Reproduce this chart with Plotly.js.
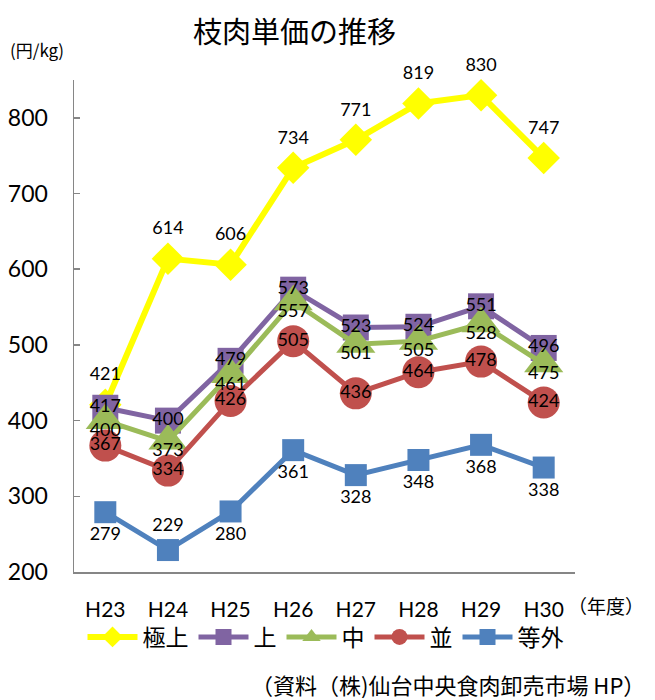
<!DOCTYPE html>
<html>
<head>
<meta charset="utf-8">
<script src="https://cdn.plot.ly/plotly-3.0.1.min.js"></script>
<style>
  html, body { margin: 0; padding: 0; background: #fff; }
  #chart { width: 655px; height: 700px; }
</style>
</head>
<body>
<div id="chart"></div>
<script>
// ---- data ----
const years = ["H23", "H24", "H25", "H26", "H27", "H28", "H29", "H30"];
const seriesNames = ["極上", "上", "中", "並", "等外"];
const gokujo = [421, 614, 606, 734, 771, 819, 830, 747];
const jo     = [417, 400, 479, 573, 523, 524, 551, 496];
const naka   = [400, 373, 461, 557, 501, 505, 528, 475];
const nami   = [367, 334, 426, 505, 436, 464, 478, 424];
const togai  = [279, 229, 280, 361, 328, 348, 368, 338];
const yTicks = [200, 300, 400, 500, 600, 700, 800];

// ---- styles ----
const numFont = "Lato, 'Open Sans', sans-serif";
const cjkFont = "'Noto Sans CJK JP', 'Noto Sans', sans-serif";
const styles = [
  { color: "#FFFF00", symbol: "diamond",     size: 25, width: 6, textpos: "top center",    tsize: 30 },
  { color: "#8064A2", symbol: "square",      size: 26, width: 5, textpos: "middle center", tsize: 26 },
  { color: "#9BBB59", symbol: "triangle-up", size: 34, width: 5, textpos: "bottom center", tsize: 1 },
  { color: "#C0504D", symbol: "circle",      size: 32, width: 5, textpos: "middle center", tsize: 32 },
  { color: "#4F81BD", symbol: "square",      size: 22, width: 5,
    textpos: ["bottom center", "top center", "bottom center", "bottom center",
              "bottom center", "bottom center", "bottom center", "bottom center"], tsize: 22 }
];
const allSeries = [gokujo, jo, naka, nami, togai];

const traces = [];
allSeries.forEach((vals, i) => {
  const s = styles[i];
  traces.push({
    type: "scatter", mode: "lines+markers",
    x: years, y: vals, name: seriesNames[i],
    line: { color: s.color, width: s.width },
    marker: { color: s.color, symbol: s.symbol, size: s.size },
    hoverinfo: "skip", cliponaxis: false
  });
});
allSeries.forEach((vals, i) => {
  const s = styles[i];
  traces.push({
    type: "scatter", mode: "markers+text",
    x: years, y: vals, text: vals.map(String),
    textposition: s.textpos,
    textfont: { family: numFont, size: 18, color: "#000" },
    marker: { color: "rgba(0,0,0,0)", size: s.tsize },
    showlegend: false, hoverinfo: "skip", cliponaxis: false
  });
});

const layout = {
  width: 655, height: 700,
  margin: { l: 74, r: 80, t: 80, b: 128 },
  paper_bgcolor: "#fff", plot_bgcolor: "#fff",
  showlegend: true,
  title: {
    text: "枝肉単価の推移",
    font: { family: cjkFont, size: 29, color: "#000" },
    xref: "paper", x: 0.44, xanchor: "center",
    yref: "container", y: 0.953, yanchor: "middle"
  },
  xaxis: {
    type: "category", range: [-0.5, 7.5],
    showline: true, linecolor: "#868686", linewidth: 1.5,
    ticks: "", showgrid: false, zeroline: false,
    tickfont: { family: numFont, size: 21, color: "#000" },
    ticklabelstandoff: 18, fixedrange: true
  },
  yaxis: {
    range: [200, 850], tickvals: yTicks,
    showline: true, linecolor: "#868686", linewidth: 1.5,
    ticks: "inside", ticklen: 6, tickcolor: "#868686", tickwidth: 1.5,
    showgrid: false, zeroline: false,
    tickfont: { family: numFont, size: 23, color: "#000" },
    ticklabelstandoff: 20, fixedrange: true
  },
  legend: {
    orientation: "h", x: 0.502, xanchor: "center",
    y: -0.132, yanchor: "middle",
    font: { family: cjkFont, size: 23, color: "#000" },
    itemwidth: 50, bgcolor: "rgba(0,0,0,0)"
  },
  annotations: [
    { text: "(円/kg)", xref: "paper", yref: "paper", x: -0.074, y: 1.061,
      xanchor: "center", yanchor: "middle", showarrow: false,
      font: { family: cjkFont, size: 17, color: "#000" } },
    { text: "（年度）", xref: "paper", yref: "paper", x: 1.062, y: -0.069,
      xanchor: "center", yanchor: "middle", showarrow: false,
      font: { family: cjkFont, size: 19, color: "#000" } },
    { text: "（資料（株)仙台中央食肉卸売市場 HP）", xref: "paper", yref: "paper", x: 1.144, y: -0.228,
      xanchor: "right", yanchor: "middle", showarrow: false,
      font: { family: cjkFont, size: 22, color: "#000" } }
  ]
};

Plotly.newPlot("chart", traces, layout, { staticPlot: true, displayModeBar: false });
</script>
</body>
</html>
